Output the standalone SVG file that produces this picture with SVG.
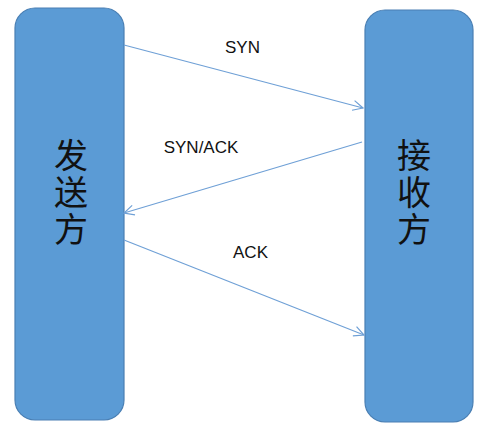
<svg xmlns="http://www.w3.org/2000/svg" width="504" height="441" viewBox="0 0 504 441">
<style>
.box{fill:#5b9bd5;stroke:#4a7fb3;stroke-width:1.2}
.cn{font-family:"Noto Sans CJK SC","DejaVu Sans",sans-serif;font-size:34px;fill:#111;text-anchor:middle;writing-mode:vertical-rl;letter-spacing:3px}
.lbl{font-family:"Liberation Sans",Arial,sans-serif;font-size:17px;fill:#111;text-anchor:middle}
.ln{stroke:#6fa0d6;stroke-width:1.2;fill:none;marker-end:url(#ah)}
</style>
<defs>
<marker id="ah" viewBox="0 0 12 12" refX="11" refY="6" markerWidth="12" markerHeight="12" markerUnits="userSpaceOnUse" orient="auto">
<path d="M1,1 L11,6 L1,11" fill="none" stroke="#6fa0d6" stroke-width="1.2"/>
</marker>
</defs>
<rect width="504" height="441" fill="#fff"/>
<g id="sender">
<rect class="box" x="15" y="8" width="109" height="412" rx="20" ry="20"/>
<text class="cn" x="71" y="194">发送方</text>
</g>
<g id="receiver">
<rect class="box" x="365" y="10" width="108" height="412" rx="20" ry="20"/>
<text class="cn" x="414" y="194">接收方</text>
</g>
<g id="connectors">
<line class="ln" x1="124" y1="45" x2="363" y2="108"/>
<line class="ln" x1="362" y1="142" x2="124" y2="213"/>
<line class="ln" x1="124" y1="240" x2="364" y2="335"/>
</g>
<g id="labels">
<text class="lbl" x="242.5" y="53">SYN</text>
<text class="lbl" x="201" y="153">SYN/ACK</text>
<text class="lbl" x="250.5" y="258">ACK</text>
</g>
</svg>
